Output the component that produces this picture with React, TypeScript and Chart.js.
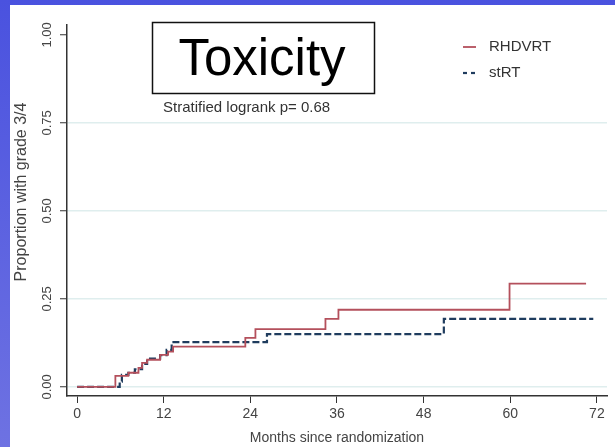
import React, { useEffect, useRef } from "react";
import { Chart, registerables } from "chart.js";

Chart.register(...registerables);

const seriesNames = ["RHDVRT", "stRT"];
const rhdvrtMonths = [0, 5.3, 7.1, 8.5, 9.0, 9.7, 11.5, 12.6, 13.3, 23.3, 24.7, 34.4, 36.2, 59.9, 70.5];
const rhdvrtProps = [0, 0.031, 0.040, 0.054, 0.068, 0.077, 0.091, 0.100, 0.114, 0.139, 0.164, 0.193, 0.219, 0.293, 0.293];
const strtMonths = [0, 5.9, 6.2, 7.1, 8.0, 9.0, 9.7, 11.5, 12.4, 13.1, 26.3, 50.8, 71.5];
const strtProps = [0, 0.015, 0.034, 0.040, 0.050, 0.065, 0.080, 0.090, 0.105, 0.127, 0.150, 0.193, 0.193];
const xTicks = [0, 12, 24, 36, 48, 60, 72];
const yTicks = [0, 0.25, 0.5, 0.75, 1.0];
const titleText = "Toxicity";
const noteText = "Stratified logrank p= 0.68";
const xTitle = "Months since randomization";
const yTitle = "Proportion with grade 3/4";

const FONT = "'Liberation Sans', Arial, Helvetica, sans-serif";

const annotations = {
  id: "annotations",
  afterDraw(chart: any) {
    const ctx = chart.ctx;
    ctx.save();
    // title box
    ctx.strokeStyle = "#111";
    ctx.lineWidth = 1.5;
    ctx.strokeRect(152.5, 22.5, 222, 71);
    ctx.fillStyle = "#000";
    ctx.font = `51px ${FONT}`;
    ctx.textAlign = "center";
    ctx.textBaseline = "alphabetic";
    ctx.fillText(titleText, 262, 75);
    // note
    ctx.font = `15px ${FONT}`;
    ctx.fillStyle = "#333";
    ctx.textAlign = "left";
    ctx.textBaseline = "middle";
    ctx.fillText(noteText, 163, 108);
    // legend
    const ys = [47, 73];
    chart.data.datasets.forEach((ds: any, i: number) => {
      ctx.strokeStyle = ds.borderColor;
      ctx.lineWidth = ds.borderWidth;
      ctx.setLineDash(ds.borderDash ? [4, 4] : []);
      ctx.beginPath();
      ctx.moveTo(463, ys[i]);
      ctx.lineTo(476, ys[i]);
      ctx.stroke();
      ctx.setLineDash([]);
      ctx.fillStyle = "#333";
      ctx.font = `15px ${FONT}`;
      ctx.textAlign = "left";
      ctx.textBaseline = "middle";
      ctx.fillText(ds.label, 489, ys[i]);
    });
    // y axis title
    ctx.save();
    ctx.translate(22, 192);
    ctx.rotate(-Math.PI / 2);
    ctx.fillStyle = "#444";
    ctx.font = `16px ${FONT}`;
    ctx.textAlign = "center";
    ctx.textBaseline = "middle";
    ctx.fillText(yTitle, 0, 0);
    ctx.restore();
    ctx.restore();
  },
};

export default function App() {
  const ref = useRef<HTMLCanvasElement>(null);
  useEffect(() => {
    if (!ref.current) return;
    const chart = new Chart(ref.current, {
      type: "line",
      data: {
        datasets: [
          {
            label: seriesNames[0],
            data: rhdvrtMonths.map((m, i) => ({ x: m, y: rhdvrtProps[i] })),
            borderColor: "#b4505c",
            borderWidth: 1.8,
            stepped: "before",
            pointRadius: 0,
            fill: false,
          },
          {
            label: seriesNames[1],
            data: strtMonths.map((m, i) => ({ x: m, y: strtProps[i] })),
            borderColor: "#1f3c5e",
            borderWidth: 2.2,
            borderDash: [7, 3],
            stepped: "before",
            pointRadius: 0,
            fill: false,
          },
        ],
      },
      options: {
        animation: false,
        responsive: false,
        maintainAspectRatio: false,
        layout: { padding: { left: 0, top: 25, right: 8, bottom: 0 } },
        plugins: { legend: { display: false }, tooltip: { enabled: false } },
        scales: {
          x: {
            type: "linear",
            min: -1.4,
            max: 73.4,
            afterFit: (s: any) => { s.height = 51; },
            afterBuildTicks: (s: any) => { s.ticks = xTicks.map((v) => ({ value: v })); },
            ticks: {
              autoSkip: false,
              maxRotation: 0,
              padding: 3,
              color: "#444",
              font: { family: FONT, size: 14 },
            },
            grid: { drawOnChartArea: false, tickLength: 7, tickColor: "#333", tickWidth: 1 },
            border: { display: true, color: "#333", width: 1.5 },
            title: {
              display: true,
              text: xTitle,
              color: "#444",
              font: { family: FONT, size: 14 },
              padding: { top: 0, bottom: 0 },
            },
          },
          y: {
            type: "linear",
            min: -0.026,
            max: 1.028,
            afterFit: (s: any) => { s.width = 67; },
            afterBuildTicks: (s: any) => { s.ticks = yTicks.map((v) => ({ value: v })); },
            ticks: {
              autoSkip: false,
              minRotation: 90,
              maxRotation: 90,
              crossAlign: "center",
              padding: 0,
              color: "#444",
              font: { family: FONT, size: 13 },
              callback: (v: any) => Number(v).toFixed(2),
            },
            grid: {
              drawOnChartArea: true,
              color: (c: any) => (c.tick && c.tick.value === 1 ? "rgba(0,0,0,0)" : "#dfeeee"),
              lineWidth: 1.5,
              tickLength: 7,
              tickColor: "#333",
              tickWidth: 1,
            },
            border: { display: true, color: "#333", width: 1.5 },
            title: { display: false },
          },
        },
      },
      plugins: [annotations],
    });
    return () => chart.destroy();
  }, []);

  return (
    <div
      style={{
        position: "fixed",
        left: 0,
        top: 0,
        width: 615,
        height: 447,
        background: "linear-gradient(to bottom, #4a52df, #6e72e2)",
        overflow: "hidden",
      }}
    >
      <div style={{ position: "absolute", left: 10, top: 5, right: 0, bottom: 0, background: "#fff" }} />
      <canvas ref={ref} width={615} height={447} style={{ position: "absolute", left: 0, top: 0, width: 615, height: 447 }} />
    </div>
  );
}
